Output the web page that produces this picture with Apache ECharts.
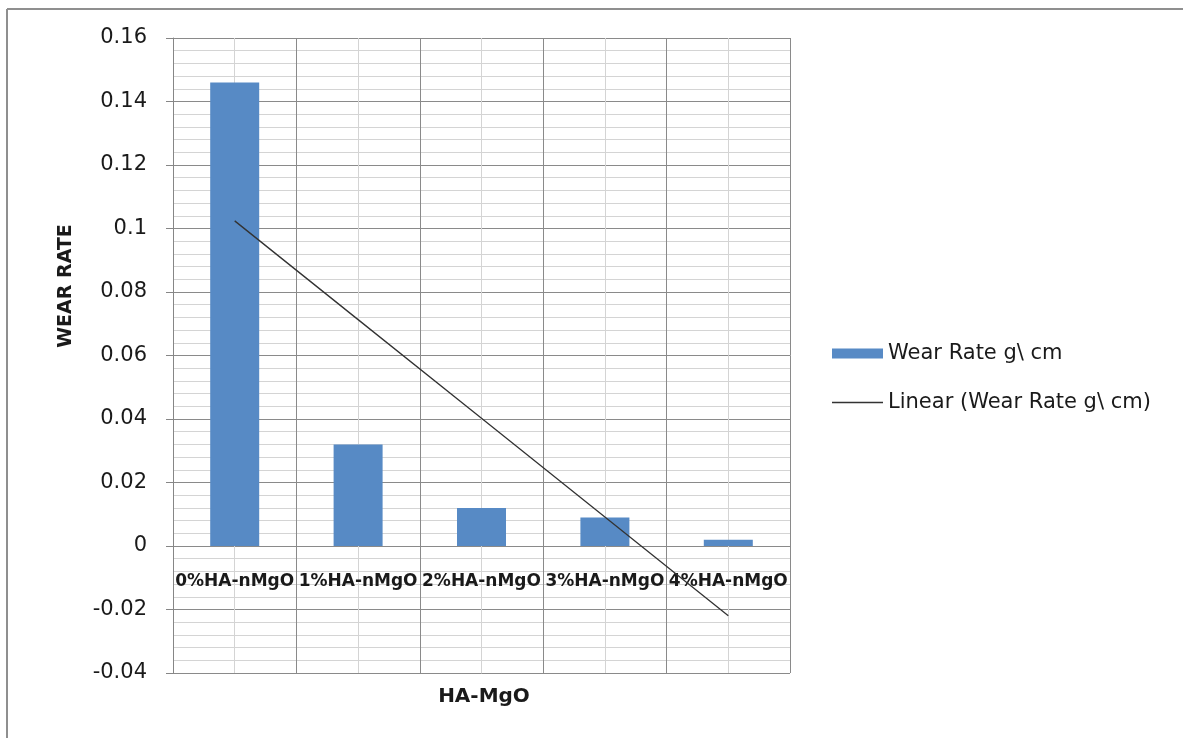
<!DOCTYPE html>
<html>
<head>
<meta charset="utf-8">
<script src="https://cdn.jsdelivr.net/npm/echarts@6/dist/echarts.min.js"></script>
<style>
html,body{margin:0;padding:0;background:#fff;}
#chart{width:1183px;height:738px;}
</style>
</head>
<body>
<div id="chart"></div>
<script>
var categories = ['0%HA-nMgO', '1%HA-nMgO', '2%HA-nMgO', '3%HA-nMgO', '4%HA-nMgO'];
var wearRate = [0.146, 0.032, 0.012, 0.009, 0.002];
var trendValues = [0.1024, 0.0713, 0.0402, 0.0091, -0.0220];
var barName = 'Wear Rate g\\ cm';
var trendName = 'Linear (Wear Rate g\\ cm)';
var yAxisTitle = 'WEAR RATE';
var xAxisTitle = 'HA-MgO';

var FONT = 'DejaVu Sans';
var chart = echarts.init(document.getElementById('chart'), null, {renderer: 'canvas'});
chart.setOption({
  backgroundColor: '#ffffff',
  animation: false,
  textStyle: {fontFamily: FONT},
  grid: {left: 173, top: 38, width: 617, height: 635, containLabel: false},
  legend: {
    orient: 'vertical',
    left: 832,
    top: 343,
    padding: 0,
    itemWidth: 51,
    itemHeight: 10,
    itemGap: 28,
    symbolKeepAspect: true,
    textStyle: {fontFamily: FONT, fontSize: 21, color: '#1a1a1a'},
    data: [
      {name: barName, icon: 'rect'},
      {name: trendName, icon: 'path://M0,0 H50 V1.3 H0 Z'}
    ]
  },
  xAxis: [{
    type: 'category',
    data: categories,
    position: 'bottom',
    axisLine: {show: false, onZero: false},
    axisTick: {show: false},
    splitLine: {show: false},
    axisLabel: {interval: 0, margin: -100, fontFamily: FONT, fontWeight: 'bold', fontSize: 17, color: '#1a1a1a'}
  }, {
    type: 'value',
    min: 0, max: 10, interval: 1,
    position: 'top',
    axisLine: {show: false, onZero: false},
    axisTick: {show: false},
    axisLabel: {show: false},
    splitLine: {show: true, lineStyle: {color: ['#8a8a8a', '#d4d4d4'], width: 1}}
  }],
  yAxis: {
    type: 'value',
    min: -0.04, max: 0.16, interval: 0.02,
    axisLine: {show: true, onZero: false, lineStyle: {color: '#868686', width: 1}},
    axisTick: {show: true, length: 7, lineStyle: {color: '#868686'}},
    axisLabel: {margin: 26, fontFamily: FONT, fontSize: 21, color: '#1a1a1a', padding: [3, 0, 0, 0]},
    splitLine: {show: true, lineStyle: {color: '#8a8a8a', width: 1}},
    minorTick: {show: false, splitNumber: 5},
    minorSplitLine: {show: true, lineStyle: {color: '#d4d4d4', width: 1}}
  },
  series: [{
    name: barName,
    type: 'bar',
    xAxisIndex: 0,
    data: wearRate,
    barWidth: 49,
    itemStyle: {color: '#578ac5'},
    z: 3
  }, {
    name: trendName,
    type: 'line',
    xAxisIndex: 0,
    data: trendValues,
    symbol: 'none',
    lineStyle: {color: '#333333', width: 1.3},
    itemStyle: {color: '#333333'},
    z: 4
  }],
  graphic: [
    {type: 'line', shape: {x1: 7, y1: 9, x2: 1183, y2: 9}, style: {stroke: '#8f8f8f', lineWidth: 2}},
    {type: 'line', shape: {x1: 7, y1: 9, x2: 7, y2: 738}, style: {stroke: '#8f8f8f', lineWidth: 2}},
    {type: 'text', x: 66, y: 286, rotation: Math.PI / 2,
     style: {text: yAxisTitle, font: 'bold 19px "' + FONT + '"', fill: '#1a1a1a', textAlign: 'center', textVerticalAlign: 'middle'}},
    {type: 'text', x: 484, y: 697,
     style: {text: xAxisTitle, font: 'bold 20px "' + FONT + '"', fill: '#1a1a1a', textAlign: 'center', textVerticalAlign: 'middle'}}
  ]
});
</script>
</body>
</html>
